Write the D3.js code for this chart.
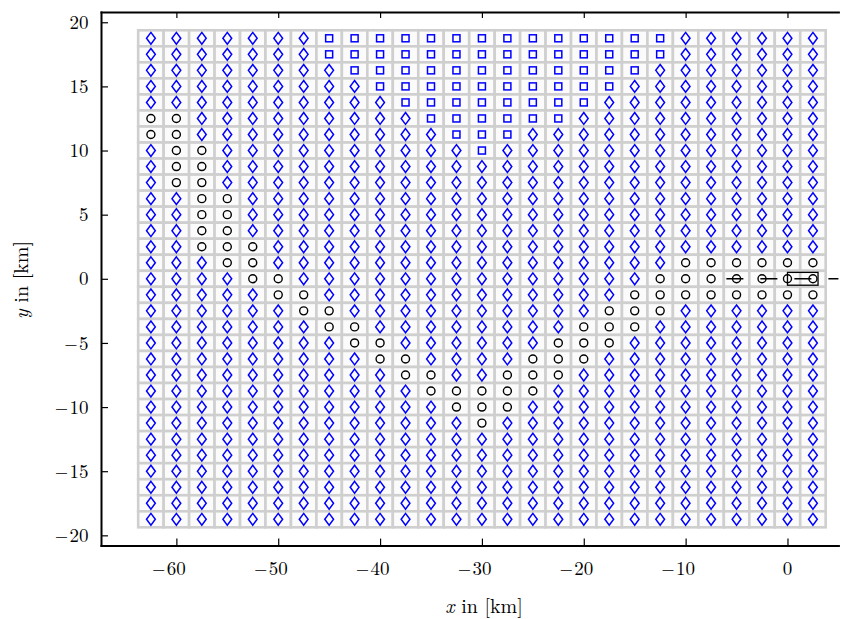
<!DOCTYPE html>
<html>
<head>
<meta charset="utf-8">
<script src="https://cdn.jsdelivr.net/npm/d3@7"></script>
<style>
  body { margin: 0; background: #fff; }
  text { font-family: "Latin Modern Roman", "CMU Serif", "Liberation Serif", serif; fill: #000; }
</style>
</head>
<body>
<div id="chart"></div>
<script>
const width = 854;
const height = 619;

// grid cell centres in km
const gridX = [-62.5, -60, -57.5, -55, -52.5, -50, -47.5, -45, -42.5, -40, -37.5, -35, -32.5,
    -30, -27.5, -25, -22.5, -20, -17.5, -15, -12.5, -10, -7.5, -5, -2.5, 0, 2.5];
const gridY = [18.75, 17.5, 16.25, 15, 13.75, 12.5, 11.25, 10, 8.75, 7.5, 6.25, 5, 3.75, 2.5, 1.25, 0,
    -1.25, -2.5, -3.75, -5, -6.25, -7.5, -8.75, -10, -11.25, -12.5, -13.75, -15, -16.25, -17.5, -18.75];

// rows with square markers: [y, x from, x to]
const squareRows = [
    [18.75, -45, -12.5],
    [17.5, -45, -12.5],
    [16.25, -42.5, -15],
    [15, -40, -17.5],
    [13.75, -37.5, -20],
    [12.5, -35, -22.5],
    [11.25, -32.5, -27.5],
    [10, -30, -30]
];

// rows with circle markers: [y, x values]
const circleRows = [
    [12.5, [-62.5, -60]],
    [11.25, [-62.5, -60]],
    [10, [-60, -57.5]],
    [8.75, [-60, -57.5]],
    [7.5, [-60, -57.5]],
    [6.25, [-57.5, -55]],
    [5, [-57.5, -55]],
    [3.75, [-57.5, -55]],
    [2.5, [-57.5, -55, -52.5]],
    [1.25, [-55, -52.5, -10, -7.5, -5, -2.5, 0, 2.5]],
    [0, [-52.5, -50, -12.5, -10, -7.5, -5, -2.5, 0, 2.5]],
    [-1.25, [-50, -47.5, -15, -12.5, -10, -7.5, -5, -2.5, 0, 2.5]],
    [-2.5, [-47.5, -45, -17.5, -15, -12.5]],
    [-3.75, [-45, -42.5, -20, -17.5, -15]],
    [-5, [-42.5, -40, -22.5, -20, -17.5]],
    [-6.25, [-40, -37.5, -25, -22.5, -20]],
    [-7.5, [-37.5, -35, -27.5, -25, -22.5]],
    [-8.75, [-35, -32.5, -30, -27.5, -25]],
    [-10, [-32.5, -30, -27.5]],
    [-11.25, [-30]]
];

const xTicks = [-60, -50, -40, -30, -20, -10, 0];
const yTicks = [-20, -15, -10, -5, 0, 5, 10, 15, 20];

// dashed trace and box near the origin
const traceLine = [[-6, 0], [5, 0]];
const sourceBox = [[0, -0.5], [3, 0.5]];

const x = d3.scaleLinear().domain([-67.4, 5]).range([101, 838.4]);
const y = d3.scaleLinear().domain([-20.8, 20.8]).range([545.6, 12]);

const svg = d3.select("#chart")
    .append("svg")
    .attr("width", width)
    .attr("height", height);

function kindOf(cx, cy) {
    const cr = circleRows.find(r => r[0] === cy);
    if (cr && cr[1].includes(cx)) return "circle";
    const sr = squareRows.find(r => r[0] === cy);
    if (sr && cx >= sr[1] && cx <= sr[2]) return "square";
    return "diamond";
}

const cells = [];
gridY.forEach(cy => gridX.forEach(cx => cells.push({ x: cx, y: cy, kind: kindOf(cx, cy) })));

const dx = 1.25, dy = 0.625;

// cells
svg.append("g")
    .selectAll("rect")
    .data(cells)
    .enter().append("rect")
    .attr("x", d => x(d.x - dx))
    .attr("y", d => y(d.y + dy))
    .attr("width", d => x(d.x + dx) - x(d.x - dx))
    .attr("height", d => y(d.y - dy) - y(d.y + dy))
    .attr("fill", "#fbfbfb")
    .attr("stroke", "#cfcfcf")
    .attr("stroke-width", 2.6);

// markers
const markers = svg.append("g");

markers.selectAll("path.diamond")
    .data(cells.filter(d => d.kind === "diamond"))
    .enter().append("path")
    .attr("class", "diamond")
    .attr("d", d => {
        const px = x(d.x), py = y(d.y);
        return `M${px},${py - 5.9}L${px + 4.4},${py}L${px},${py + 5.9}L${px - 4.4},${py}Z`;
    })
    .attr("fill", "none")
    .attr("stroke", "#0000ff")
    .attr("stroke-width", 1.5);

markers.selectAll("rect.square")
    .data(cells.filter(d => d.kind === "square"))
    .enter().append("rect")
    .attr("class", "square")
    .attr("x", d => x(d.x) - 3.5)
    .attr("y", d => y(d.y) - 3.5)
    .attr("width", 7)
    .attr("height", 7)
    .attr("fill", "none")
    .attr("stroke", "#0000ff")
    .attr("stroke-width", 1.5);

markers.selectAll("circle")
    .data(cells.filter(d => d.kind === "circle"))
    .enter().append("circle")
    .attr("cx", d => x(d.x))
    .attr("cy", d => y(d.y))
    .attr("r", 4)
    .attr("fill", "none")
    .attr("stroke", "#000")
    .attr("stroke-width", 1.4);

// trace + box
svg.append("line")
    .attr("x1", x(traceLine[0][0]))
    .attr("y1", y(traceLine[0][1]))
    .attr("x2", x(traceLine[1][0]))
    .attr("y2", y(traceLine[1][1]))
    .attr("stroke", "#000")
    .attr("stroke-width", 1.4)
    .attr("stroke-dasharray", "17,17");

svg.append("rect")
    .attr("x", x(sourceBox[0][0]))
    .attr("y", y(sourceBox[1][1]))
    .attr("width", x(sourceBox[1][0]) - x(sourceBox[0][0]))
    .attr("height", y(sourceBox[0][1]) - y(sourceBox[1][1]))
    .attr("fill", "none")
    .attr("stroke", "#000")
    .attr("stroke-width", 1.3);

// axes
const axisBottom = svg.append("g")
    .attr("transform", `translate(0,${y.range()[0]})`)
    .call(d3.axisBottom(x).tickValues(xTicks).tickSize(-7).tickSizeOuter(0).tickFormat(""));
const axisTop = svg.append("g")
    .attr("transform", `translate(0,${y.range()[1]})`)
    .call(d3.axisTop(x).tickValues(xTicks).tickSize(-6).tickSizeOuter(0).tickFormat(""));
const axisLeft = svg.append("g")
    .attr("transform", `translate(${x.range()[0]},0)`)
    .call(d3.axisLeft(y).tickValues(yTicks).tickSize(-7).tickSizeOuter(0).tickFormat(""));

[axisBottom, axisTop, axisLeft].forEach(g => {
    g.select(".domain").attr("stroke-width", 2).attr("stroke-linecap", "square");
    g.selectAll(".tick line").attr("stroke-width", 1.2);
});

const fontSize = 19;

function addMinus(xEnd, yPos, dyVal) {
    svg.append("text")
        .attr("x", xEnd - 13)
        .attr("y", yPos)
        .attr("dy", dyVal)
        .attr("font-size", fontSize)
        .attr("textLength", 13)
        .attr("lengthAdjust", "spacingAndGlyphs")
        .text("\u2212");
}

// x tick labels: digits centred on the tick, minus hanging left
xTicks.forEach(v => {
    const digits = String(Math.abs(v));
    const t = svg.append("text")
        .attr("x", x(v))
        .attr("y", 575)
        .attr("text-anchor", "middle")
        .attr("font-size", fontSize)
        .text(digits);
    if (v < 0) {
        const w = t.node().getComputedTextLength();
        addMinus(x(v) - w / 2 - 1.5, 575, 0);
    }
});

// y tick labels
yTicks.forEach(v => {
    const t = svg.append("text")
        .attr("x", 88.5)
        .attr("y", y(v))
        .attr("dy", "0.35em")
        .attr("text-anchor", "end")
        .attr("font-size", fontSize)
        .text(String(Math.abs(v)));
    if (v < 0) {
        const w = t.node().getComputedTextLength();
        addMinus(88.5 - w - 1.5, y(v), "0.35em");
    }
});

// axis titles
const xl = svg.append("text")
    .attr("x", 484)
    .attr("y", 613)
    .attr("text-anchor", "middle")
    .attr("font-size", 20);
xl.append("tspan").attr("font-style", "italic").text("x");
xl.append("tspan").text(" in [km]");

const yl = svg.append("text")
    .attr("transform", "translate(28,280) rotate(-90)")
    .attr("text-anchor", "middle")
    .attr("font-size", 20);
yl.append("tspan").attr("font-style", "italic").text("y");
yl.append("tspan").text(" in [km]");
</script>
</body>
</html>
